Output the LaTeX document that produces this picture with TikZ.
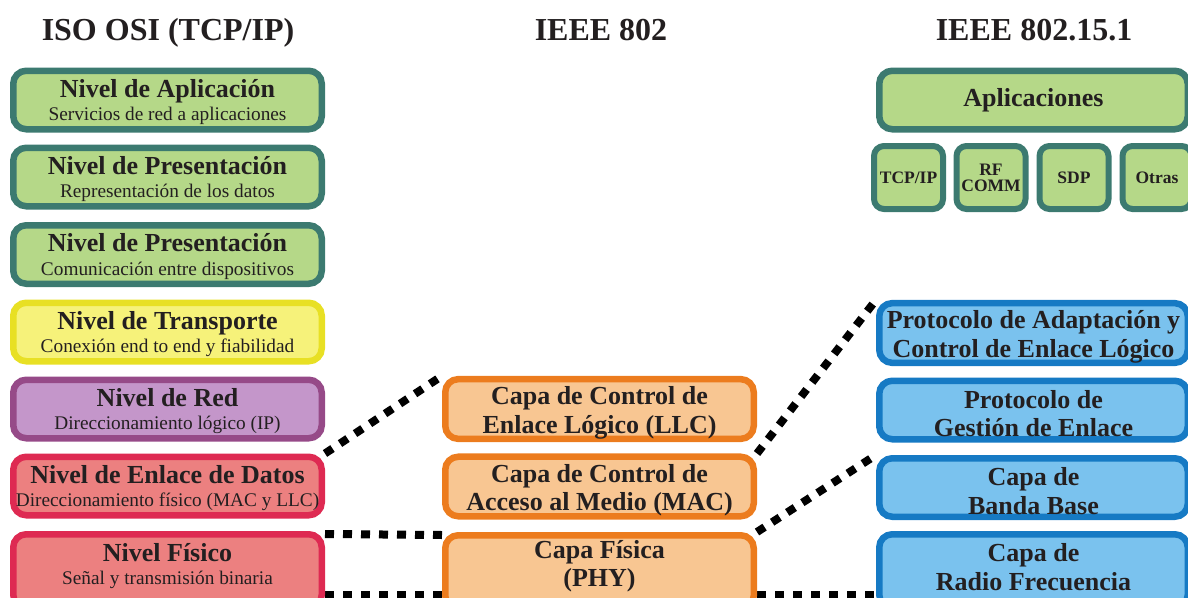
\documentclass[tikz,border=0pt]{standalone}
\usepackage{fontspec}
\setmainfont{Liberation Serif}
\usetikzlibrary{backgrounds}

\definecolor{gline}{RGB}{60,122,112}
\definecolor{gfill}{RGB}{181,216,136}
\definecolor{yline}{RGB}{232,224,36}
\definecolor{yfill}{RGB}{246,242,122}
\definecolor{pline}{RGB}{150,74,136}
\definecolor{pfill}{RGB}{196,150,202}
\definecolor{rline}{RGB}{222,42,82}
\definecolor{rfill}{RGB}{236,128,128}
\definecolor{oline}{RGB}{236,124,30}
\definecolor{ofill}{RGB}{248,198,146}
\definecolor{bline}{RGB}{22,122,196}
\definecolor{bfill}{RGB}{122,194,238}
\definecolor{ink}{RGB}{35,31,32}

\newcommand\lvlname{\fontsize{26}{26}\selectfont\bfseries}
% invisible struts on the first line set two-line labels a little lower
\newcommand\strutA{\rule{0pt}{22.3pt}}
\newcommand\strutB{\rule{0pt}{25.5pt}}

\tikzset{
  layer/.style={draw, rounded corners=13pt, line width=6.5pt, inner sep=0pt,
    align=center, text=ink, minimum width=308.5pt, minimum height=58.5pt},
  osi/.style={layer, font=\fontsize{19.3}{23.5}\selectfont},
  bold/.style={layer, font=\fontsize{26}{28.5}\selectfont\bfseries},
  small/.style={draw, rounded corners=10pt, line width=6pt, inner sep=0pt,
    align=center, text=ink, minimum width=69pt, minimum height=63pt,
    font=\fontsize{17.5}{16}\selectfont\bfseries},
  green/.style={draw=gline, fill=gfill},
  yellow/.style={draw=yline, fill=yfill},
  purple/.style={draw=pline, fill=pfill},
  red/.style={draw=rline, fill=rfill},
  orange/.style={draw=oline, fill=ofill},
  blue/.style={draw=bline, fill=bfill},
  label text/.style={align=center, text=ink, inner sep=0pt},
  head/.style={text=ink, inner sep=0pt, anchor=base, font=\fontsize{32}{32}\selectfont\bfseries},
  dots/.style={draw=black, line width=8pt, dash pattern=on 9pt off 9pt}
}

\begin{document}
\begin{tikzpicture}[x=1pt,y=-1pt]
\useasboundingbox (0,0) rectangle (1188,597);
\clip (0,0) rectangle (1188,597);

% column headings
\node[head] (h1) at (168,40) {ISO OSI (TCP/IP)};
\node[head] (h2) at (601,40) {IEEE 802};
\node[head] (h3) at (1034,40) {IEEE 802.15.1};

% OSI reference model
\node[osi, green]  (app) at (167.5,100)   {\strutA{\lvlname Nivel de Aplicación}\\Servicios de red a aplicaciones};
\node[osi, green]  (pre) at (167.5,177)   {\strutA{\lvlname Nivel de Presentación}\\Representación de los datos};
\node[osi, green]  (ses) at (167.5,254.5) {\strutA{\lvlname Nivel de Presentación}\\Comunicación entre dispositivos};
\node[osi, yellow] (tra) at (167.5,332)   {\strutA{\lvlname Nivel de Transporte}\\Conexión end to end y fiabilidad};
\node[osi, purple] (red) at (167.5,409)   {\strutA{\lvlname Nivel de Red}\\Direccionamiento lógico (IP)};
\node[osi, red]    (enl) at (167.5,486)   {\strutA{\lvlname Nivel de Enlace de Datos}\\Direccionamiento físico (MAC y LLC)};
\node[osi, red, minimum height=73.5pt] (fis) at (167.5,571) {};
\node[label text, font=\fontsize{19.3}{23.5}\selectfont] (fisT) at (167.5,566)
  {{\lvlname Nivel Físico}\\Señal y transmisión binaria};

% IEEE 802
\node[bold, orange] (llc) at (599.5,409)   {\strutB Capa de Control de\\Enlace Lógico (LLC)};
\node[bold, orange] (mac) at (599.5,486.5) {\strutB Capa de Control de\\Acceso al Medio (MAC)};
\node[bold, orange, minimum height=73.5pt] (phy) at (599.5,572) {};
\node[label text, font=\fontsize{26}{28.5}\selectfont\bfseries] (phyT) at (599.5,566)
  {Capa Física\\(PHY)};

% IEEE 802.15.1
\node[bold, green] (apl) at (1033.5,100) {Aplicaciones};
\node[small, green] (tcp) at (908.5,177.5) {TCP/IP};
\node[small, green] (rfc) at (991,177.5)   {RF\\COMM};
\node[small, green] (sdp) at (1074,177.5)  {SDP};
\node[small, green] (otr) at (1157,177.5)  {Otras};

\node[bold, blue] (pac) at (1033.5,333)   {\strutB Protocolo de Adaptación y\\Control de Enlace Lógico};
\node[bold, blue] (lmp) at (1033.5,410)   {\strutB Protocolo de\\Gestión de Enlace};
\node[bold, blue] (bb)  at (1033.5,487.5) {\strutB Capa de\\Banda Base};
\node[bold, blue, minimum height=73.5pt] (rf) at (1033.5,571) {};
\node[label text, font=\fontsize{26}{28.5}\selectfont\bfseries] (rfT) at (1033.5,567)
  {Capa de\\Radio Frecuencia};

% correspondences between the stacks
\coordinate (floor) at (0,595);
\begin{scope}[on background layer]
  \draw[dots] (enl.north east) -- (llc.north west);
  \draw[dots] (mac.north east) -- (pac.north west);
  \draw[dots] (phy.north east) -- (bb.north west);
  \draw[dots] ([yshift=-3pt]fis.north east) -- ([yshift=-3pt]phy.north west);
  \draw[dots] (fis.east |- floor) -- (phy.west |- floor);
  \draw[dots] (phy.east |- floor) -- (rf.west |- floor);
\end{scope}
\end{tikzpicture}
\end{document}
